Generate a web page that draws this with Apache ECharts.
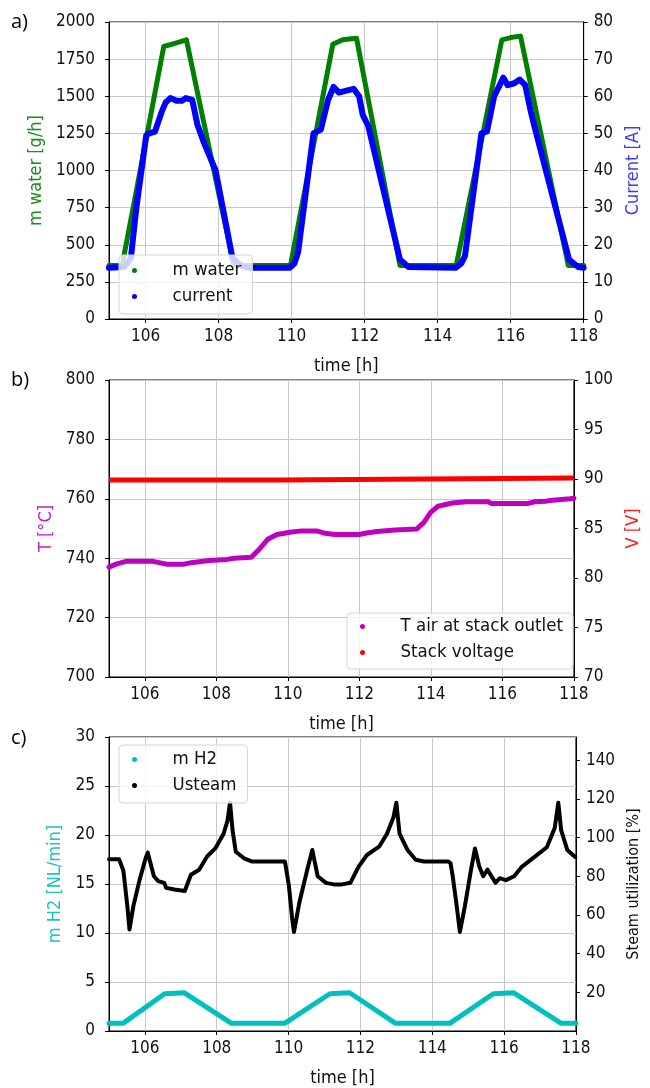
<!DOCTYPE html>
<html><head><meta charset="utf-8">
<script src="https://cdn.jsdelivr.net/npm/echarts@6/dist/echarts.min.js"></script>
<style>html,body{margin:0;padding:0;background:#fff}#c{width:650px;height:1088px}</style>
</head><body><div id="c"></div>
<script>
// ---- data ----
const xTicks = [106, 108, 110, 112, 114, 116, 118];

const mWater = [[105,360],[105.36,360],[106.5,1835],[106.78,1855],[107.12,1880],[108.42,360],[109.97,360],[111.13,1850],[111.4,1880],[111.78,1890],[112.97,360],[114.51,360],[115.76,1880],[116.0,1895],[116.27,1905],[117.58,360],[118,360]];

const current = [[105,13.8],[105.4,14],[105.5,15],[105.6,16.5],[105.75,30],[106.02,49.5],[106.1,50],[106.26,50.5],[106.45,56],[106.55,58.3],[106.68,59.5],[106.85,58.8],[107.0,58.8],[107.1,59.5],[107.28,59],[107.42,52.4],[107.6,47.5],[107.92,40],[108.38,16.5],[108.6,14.5],[108.8,13.8],[109.95,13.8],[110.08,15],[110.18,18],[110.6,50],[110.8,51],[111.0,59],[111.15,62.5],[111.3,61],[111.5,61.5],[111.7,62],[111.85,60],[111.95,55],[112.1,52],[112.97,16],[113.2,14],[114.5,13.8],[114.65,15],[114.75,17],[115.2,50],[115.35,50.5],[115.55,60],[115.7,63],[115.8,65],[115.92,63],[116.1,63.5],[116.25,64.5],[116.4,63],[116.55,56],[116.65,52],[117.6,16],[117.85,14],[118,13.8]];

const tAir = [[105,737],[105.2,738],[105.5,739],[106.2,739],[106.4,738.5],[106.6,738],[107.1,738],[107.3,738.5],[107.8,739.2],[108.3,739.6],[108.5,740],[108.98,740.3],[109.2,743],[109.45,746.5],[109.7,748],[110.1,748.8],[110.4,749.2],[110.8,749.2],[111.0,748.5],[111.3,748],[112.0,748],[112.2,748.5],[112.5,749],[113.0,749.5],[113.6,749.8],[113.8,752],[114.0,755.5],[114.2,757.5],[114.6,758.6],[115.0,759],[115.6,759],[115.7,758.4],[116.7,758.4],[116.9,759],[117.2,759.2],[117.4,759.5],[117.9,760],[118,760.2]];

const stackVoltage = [[105,89.9],[109.78,89.9],[109.8,90.1],[118,90.1]];

const mH2 = [[105,0.8],[105.4,0.8],[106.55,3.8],[107.1,3.9],[107.15,4.0],[108.4,0.8],[109.9,0.8],[111.15,3.8],[111.7,3.9],[111.75,4.0],[112.97,0.8],[114.5,0.8],[115.7,3.8],[116.27,3.9],[117.58,0.8],[118,0.8]];

const uSteam = [[105.0,88.8],[105.28,88.8],[105.4,83],[105.51,64.7],[105.57,52.5],[105.68,64.7],[105.85,78],[106.03,90],[106.08,92.2],[106.25,80],[106.37,77.5],[106.54,76.6],[106.59,74],[106.82,73.2],[107.11,72.4],[107.28,80.8],[107.51,83.4],[107.73,90.2],[107.96,94.4],[108.19,102],[108.3,108.8],[108.37,118],[108.44,103.7],[108.53,92.7],[108.76,89.3],[108.99,87.6],[109.9,87.6],[109.95,86.7],[110.01,75],[110.1,58],[110.15,51.2],[110.3,66.4],[110.52,83.4],[110.66,93.6],[110.81,80],[111.04,76.6],[111.26,75.8],[111.49,75.8],[111.72,76.6],[111.95,85],[112.18,91],[112.52,95.3],[112.74,102],[112.92,110.5],[113.0,118],[113.09,102],[113.31,93.6],[113.54,88.5],[113.77,87.6],[114.45,87.6],[114.51,86.7],[114.57,80],[114.68,64.7],[114.77,51.2],[114.91,64.7],[115.08,83.4],[115.19,94.4],[115.31,85],[115.42,80],[115.54,83.4],[115.65,80],[115.76,76.6],[115.88,79],[116.05,78],[116.28,80],[116.5,85],[116.85,90],[117.19,95],[117.41,105],[117.51,118],[117.59,103.7],[117.76,93.6],[117.98,90]];

const rightTicksC = [20, 40, 60, 80, 100, 120, 140];

// ---- styling helpers ----
const FONT = '"DejaVu Sans Condensed", "DejaVu Sans"';
const FS = 17;
const NFS = 18;
const gridLine = { show: true, lineStyle: { color: '#c8c8c8', width: 1 } };
const tickStyle = { show: true, inside: false, length: 4, lineStyle: { color: '#000', width: 1 } };
const labelStyle = { color: '#111', fontSize: FS, fontFamily: FONT, formatter: function (v) { return String(v); } };

function xAx(i) {
  return {
    gridIndex: i, type: 'value', min: 105, max: 118, splitNumber: 6,
    axisLine: { show: true, lineStyle: { color: '#000', width: 1 } },
    axisTick: Object.assign({ customValues: xTicks }, tickStyle),
    axisLabel: Object.assign({ customValues: xTicks, margin: 9 }, labelStyle),
    splitLine: gridLine,
    name: 'time [h]', nameLocation: 'middle', nameGap: 38,
    nameTextStyle: { color: '#111', fontSize: NFS, fontFamily: FONT }
  };
}
function yAx(i, pos, min, max, interval, name, color, gap, split, nfs, extra) {
  const o = {
    gridIndex: i, type: 'value', position: pos, min: min, max: max, interval: interval,
    axisLine: { show: true, lineStyle: { color: '#000', width: 1 } },
    axisTick: Object.assign({}, tickStyle),
    axisLabel: Object.assign({ margin: pos === 'left' ? 14 : 10 }, labelStyle),
    splitLine: split ? gridLine : { show: false },
    name: name, nameLocation: 'middle', nameRotate: 90, nameGap: gap,
    nameTextStyle: { color: color, fontSize: nfs, fontFamily: FONT }
  };
  if (extra) extra(o);
  return o;
}
function legendBox(left, top, names, padding) {
  return {
    left: left, top: top, orient: 'vertical', data: names, icon: 'circle',
    itemWidth: 20, itemHeight: 5, itemGap: 7,
    padding: padding,
    backgroundColor: 'rgba(255,255,255,0.8)', borderColor: '#d4d4d4', borderWidth: 1, borderRadius: 4,
    textStyle: { color: '#111', fontSize: 18.5, fontFamily: FONT, lineHeight: 18, padding: [0, 0, 0, 23] },
    selectedMode: false
  };
}

const chart = echarts.init(document.getElementById('c'), null, { renderer: 'canvas' });
const option = {
  animation: false,
  backgroundColor: '#fff',
  grid: [
    { left: 109, top: 22, width: 475, height: 297, show: true, borderColor: '#000', borderWidth: 1, backgroundColor: 'transparent' },
    { left: 109, top: 380, width: 475, height: 297, show: true, borderColor: '#000', borderWidth: 1, backgroundColor: 'transparent' },
    { left: 109, top: 737, width: 475, height: 298, show: true, borderColor: '#000', borderWidth: 1, backgroundColor: 'transparent' }
  ],
  xAxis: [xAx(0), xAx(1), xAx(2)],
  yAxis: [
    yAx(0, 'left', 0, 2000, 250, 'm water [g/h]', '#1a8c1a', 64, true, NFS),
    yAx(0, 'right', 0, 80, 10, 'Current [A]', '#3a3aff', 38, false, NFS),
    yAx(1, 'left', 700, 800, 20, 'T [°C]', '#c020c0', 54, true, NFS),
    yAx(1, 'right', 70, 100, 5, 'V [V]', '#ff2020', 47, false, NFS),
    yAx(2, 'left', 0, 30, 5, 'm H2 [NL/min]', '#20c0c0', 42, true, NFS),
    yAx(2, 'right', 0, 152, 20, 'Steam utilization [%]', '#111', 45, false, 16, function (o) {
      o.axisTick.customValues = rightTicksC;
      o.axisLabel.customValues = rightTicksC;
    })
  ],
  legend: [
    legendBox(119, 255, ['m water', 'current'], [6, 11, 8, 13]),
    legendBox(347, 613, ['T air at stack outlet', 'Stack voltage'], [4, 10, 7, 13]),
    legendBox(119, 745, ['m H2', 'Usteam'], [5, 11, 8, 13])
  ],
  series: [
    { name: 'm water', type: 'line', xAxisIndex: 0, yAxisIndex: 0, data: mWater, showSymbol: false, symbol: 'circle', color: '#008000', lineStyle: { width: 5, color: '#008000', cap: 'round', join: 'round' }, z: 2 },
    { name: 'current', type: 'line', xAxisIndex: 0, yAxisIndex: 1, data: current, showSymbol: false, symbol: 'circle', color: '#0000ff', lineStyle: { width: 6, color: '#0000ff', cap: 'round', join: 'round' }, z: 3 },
    { name: 'T air at stack outlet', type: 'line', xAxisIndex: 1, yAxisIndex: 2, data: tAir, showSymbol: false, symbol: 'circle', color: '#bf00bf', lineStyle: { width: 5, color: '#bf00bf', cap: 'round', join: 'round' } },
    { name: 'Stack voltage', type: 'line', xAxisIndex: 1, yAxisIndex: 3, data: stackVoltage, showSymbol: false, symbol: 'circle', color: '#ff0000', lineStyle: { width: 5, color: '#ff0000', cap: 'butt', join: 'miter' } },
    { name: 'm H2', type: 'line', xAxisIndex: 2, yAxisIndex: 4, data: mH2, showSymbol: false, symbol: 'circle', color: '#00bfbf', lineStyle: { width: 5, color: '#00bfbf', cap: 'round', join: 'round' } },
    { name: 'Usteam', type: 'line', xAxisIndex: 2, yAxisIndex: 5, data: uSteam, showSymbol: false, symbol: 'circle', color: '#000', lineStyle: { width: 4, color: '#000', cap: 'round', join: 'round' } }
  ],
  graphic: [
    { type: 'text', left: 11, top: 12, style: { text: 'a)', fontSize: 20, fontFamily: 'Open Sans', fill: '#000' } },
    { type: 'text', left: 11, top: 370, style: { text: 'b)', fontSize: 20, fontFamily: 'Open Sans', fill: '#000' } },
    { type: 'text', left: 11, top: 728, style: { text: 'c)', fontSize: 20, fontFamily: 'Open Sans', fill: '#000' } }
  ]
};
chart.setOption(option);
</script>
</body></html>
